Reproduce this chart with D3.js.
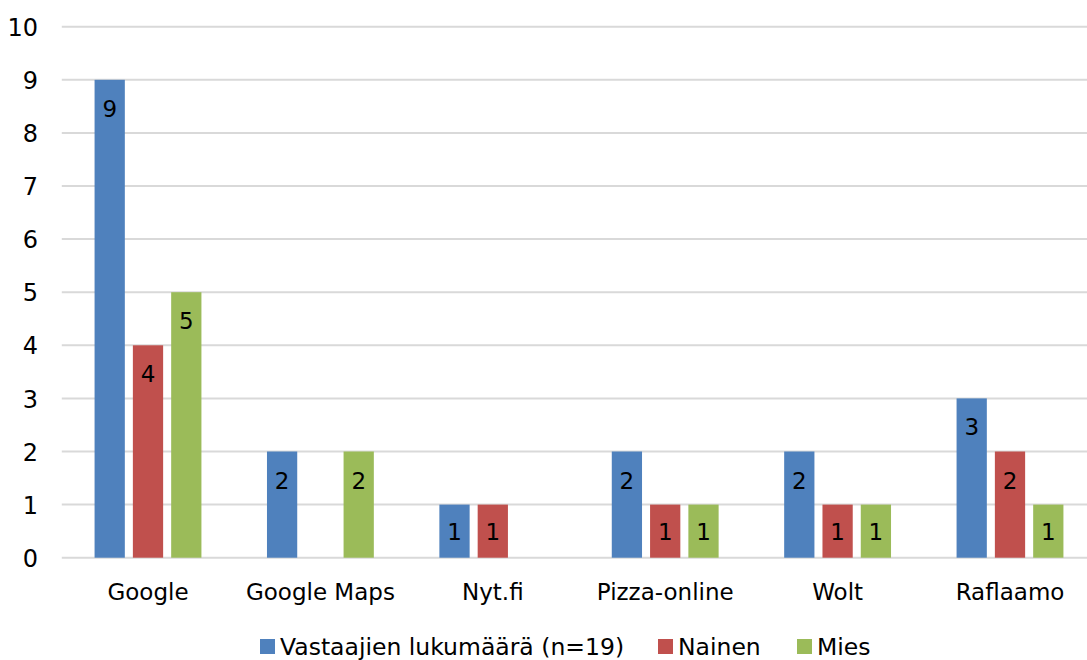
<!DOCTYPE html>
<html>
<head>
<meta charset="utf-8">
<script src="https://cdn.jsdelivr.net/npm/d3@7"></script>
<style>
  body { margin: 0; background: #fff; }
  svg text { font-family: "DejaVu Sans", Verdana, sans-serif; fill: #000; }
</style>
</head>
<body>
<svg id="chart" width="1087" height="660"></svg>
<script>
// data
var categories = ["Google", "Google Maps", "Nyt.fi", "Pizza-online", "Wolt", "Raflaamo"];
var seriesNames = ["Vastaajien lukumäärä (n=19)", "Nainen", "Mies"];
var totalValues = [9, 2, 1, 2, 2, 3];
var naisValues = [4, 0, 1, 1, 1, 2];
var miesValues = [5, 2, 0, 1, 1, 1];
var yTicks = [0, 1, 2, 3, 4, 5, 6, 7, 8, 9, 10];
var colors = ["#4F81BD", "#C0504D", "#9BBB59"];

var seriesValues = [totalValues, naisValues, miesValues];

var svg = d3.select("#chart");

var x0 = d3.scaleBand()
  .domain(categories)
  .range([61.8, 1096.2]);

var bw = x0.bandwidth();
var step = 38.3;
var x1 = d3.scaleBand()
  .domain(d3.range(seriesNames.length))
  .range([bw / 2 - 1.5 * step, bw / 2 + 1.5 * step])
  .paddingInner(0.21)
  .paddingOuter(0.105);

var y = d3.scaleLinear()
  .domain([0, 10])
  .range([557.7, 26.7]);

// gridlines
svg.append("g")
  .selectAll("line")
  .data(yTicks)
  .enter()
  .append("line")
  .attr("x1", x0.range()[0])
  .attr("x2", x0.range()[1])
  .attr("y1", function(d) { return y(d); })
  .attr("y2", function(d) { return y(d); })
  .attr("stroke", "#D9D9D9")
  .attr("stroke-width", 2);

// y axis labels
var yAxis = d3.axisLeft(y)
  .tickValues(yTicks)
  .tickSize(0)
  .tickPadding(0)
  .tickFormat(d3.format("d"));

svg.append("g")
  .attr("transform", "translate(38,0)")
  .call(yAxis)
  .call(function(g) { g.select(".domain").remove(); })
  .selectAll("text")
  .attr("font-size", 24)
  .attr("font-family", "DejaVu Sans")
  .attr("dy", "0.36em");

// x axis labels
var xAxis = d3.axisBottom(x0).tickSize(0).tickPadding(0);
svg.append("g")
  .attr("transform", "translate(0,600)")
  .call(xAxis)
  .call(function(g) { g.select(".domain").remove(); })
  .selectAll("text")
  .attr("font-size", 23)
  .attr("font-family", "DejaVu Sans")
  .attr("dy", 0)
  .attr("y", 0);

// bars
var rows = [];
categories.forEach(function(c, i) {
  seriesValues.forEach(function(vals, s) {
    rows.push({ cat: c, s: s, v: vals[i] });
  });
});
var shown = rows.filter(function(d) { return d.v > 0; });

var bars = svg.append("g");
bars.selectAll("rect")
  .data(shown)
  .enter()
  .append("rect")
  .attr("x", function(d) { return x0(d.cat) + x1(d.s); })
  .attr("width", x1.bandwidth())
  .attr("y", function(d) { return y(d.v); })
  .attr("height", function(d) { return y(0) - y(d.v); })
  .attr("fill", function(d) { return colors[d.s]; });

// data labels inside end
bars.selectAll("text")
  .data(shown)
  .enter()
  .append("text")
  .attr("x", function(d) { return x0(d.cat) + x1(d.s) + x1.bandwidth() / 2; })
  .attr("y", function(d) {
    var top = y(d.v);
    return Math.min(top + 37, (top + y(0)) / 2 + 8.5);
  })
  .attr("text-anchor", "middle")
  .attr("font-size", 23)
  .text(function(d) { return d.v; });

// legend
var legendX = [260, 658, 797];
var legend = svg.append("g");
seriesNames.forEach(function(name, i) {
  legend.append("rect")
    .attr("x", legendX[i])
    .attr("y", 639)
    .attr("width", 15)
    .attr("height", 15)
    .attr("fill", colors[i]);
  legend.append("text")
    .attr("x", legendX[i] + 20)
    .attr("y", 655)
    .attr("font-size", 23.5)
    .text(name);
});
</script>
</body>
</html>
